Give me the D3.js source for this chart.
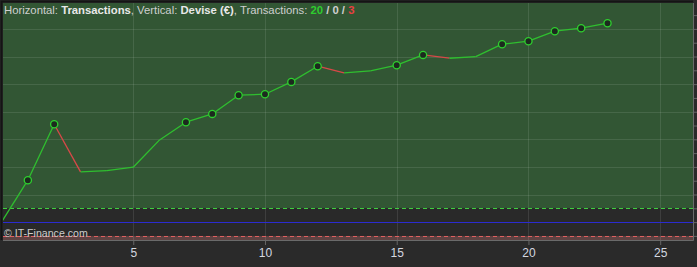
<!DOCTYPE html>
<html>
<head>
<meta charset="utf-8">
<script src="https://cdn.jsdelivr.net/npm/d3@7"></script>
<style>
  body { margin: 0; background: #2a2a2a; }
  svg { display: block; font-family: "Liberation Sans", Arial, sans-serif; }
</style>
</head>
<body>
<div id="chart"></div>
<script>
// equity after each transaction (index 0 = start)
var trades = [0, 1, 2, 3, 4, 5, 6, 7, 8, 9, 10, 11, 12, 13, 14, 15, 16, 17, 18, 19, 20, 21, 22, 23];
var equity = [0, 1518, 3547, 1819, 1862, 1989, 2978, 3620, 3920, 4598, 4634, 5080,
              5649, 5406, 5478, 5685, 6058, 5938, 5996, 6446, 6554, 6917, 7025, 7207];
var xTicks = [5, 10, 15, 20, 25];
var upperLevel = 500;
var lowerLevel = -500;
var counts = [20, 0, 3]; // wins / neutral / losses

let width = 697, height = 267;
let plot = { left: 3, top: 3, right: 693, bottom: 240 };

let svg = d3.select('#chart').append('svg')
    .attr('width', width)
    .attr('height', height);

let x = d3.scaleLinear()
    .domain([0.057, 26.245])
    .range([plot.left, plot.right]);

// 1000 € per grid row of ~27.6px
let y = d3.scaleLinear()
    .domain([-648, 7939])
    .range([plot.bottom, plot.top]);

svg.append('defs').append('clipPath')
    .attr('id', 'plot-clip')
    .append('rect')
    .attr('x', plot.left).attr('y', plot.top)
    .attr('width', plot.right - plot.left)
    .attr('height', plot.bottom - plot.top);

let g = svg.append('g').attr('clip-path', 'url(#plot-clip)');

// background zones
g.append('rect')
    .attr('x', plot.left).attr('width', plot.right - plot.left)
    .attr('y', plot.top).attr('height', y(upperLevel) - plot.top)
    .attr('fill', '#325634');
g.append('rect')
    .attr('x', plot.left).attr('width', plot.right - plot.left)
    .attr('y', y(upperLevel)).attr('height', y(lowerLevel) - y(upperLevel))
    .attr('fill', '#292929');
g.append('rect')
    .attr('x', plot.left).attr('width', plot.right - plot.left)
    .attr('y', y(lowerLevel)).attr('height', plot.bottom - y(lowerLevel))
    .attr('fill', '#5e4242');

// grid
g.selectAll('.hgrid')
    .data(d3.range(1000, 8000, 1000))
    .enter().append('line')
    .attr('x1', plot.left).attr('x2', plot.right)
    .attr('y1', d => Math.round(y(d)) + 0.5).attr('y2', d => Math.round(y(d)) + 0.5)
    .attr('stroke', '#ffffff').attr('stroke-opacity', 0.1);

g.selectAll('.vgrid')
    .data(xTicks)
    .enter().append('line')
    .attr('x1', d => Math.round(x(d)) + 0.5).attr('x2', d => Math.round(x(d)) + 0.5)
    .attr('y1', plot.top).attr('y2', plot.bottom)
    .attr('stroke', '#ffffff').attr('stroke-opacity', 0.1);

// levels
g.append('line')
    .attr('x1', plot.left).attr('x2', plot.right)
    .attr('y1', Math.round(y(upperLevel)) + 0.5).attr('y2', Math.round(y(upperLevel)) + 0.5)
    .attr('stroke', '#3fcf3f').attr('stroke-dasharray', '4,3');
g.append('line')
    .attr('x1', plot.left).attr('x2', plot.right)
    .attr('y1', Math.round(y(0)) + 0.5).attr('y2', Math.round(y(0)) + 0.5)
    .attr('stroke', '#2b2bd0').attr('stroke-width', 1.2);
g.append('line')
    .attr('x1', plot.left).attr('x2', plot.right)
    .attr('y1', Math.round(y(lowerLevel)) + 0.5).attr('y2', Math.round(y(lowerLevel)) + 0.5)
    .attr('stroke', '#e06060').attr('stroke-dasharray', '4,3');

// equity segments, red when the trade lost
let segs = d3.range(1, trades.length).map(i => ({
    x1: trades[i - 1], y1: equity[i - 1], x2: trades[i], y2: equity[i]
}));
g.selectAll('.seg')
    .data(segs)
    .enter().append('line')
    .attr('x1', d => x(d.x1)).attr('y1', d => y(d.y1))
    .attr('x2', d => x(d.x2)).attr('y2', d => y(d.y2))
    .attr('stroke', d => d.y2 < d.y1 ? '#d84848' : '#2fbf2f')
    .attr('stroke-width', 1.3);

// markers on new equity highs
let peak = 0;
let highs = [];
trades.forEach((t, i) => {
    if (i > 0 && equity[i] > peak) highs.push(i);
    peak = Math.max(peak, equity[i]);
});
g.selectAll('.dot')
    .data(highs)
    .enter().append('circle')
    .attr('cx', i => x(trades[i])).attr('cy', i => y(equity[i]))
    .attr('r', 3.6)
    .attr('fill', '#1c2a1e')
    .attr('stroke', '#2fcf2f')
    .attr('stroke-width', 1.3);

// watermark
g.append('text')
    .attr('x', 4).attr('y', 237)
    .attr('fill', '#cccccc')
    .style('font-size', '10.6px')
    .text('\u00a9 IT-Finance.com');

// frame
svg.append('path')
    .attr('d', `M${plot.left - 1.5},${plot.bottom} V${plot.top - 1.5} H${plot.right}`)
    .attr('fill', 'none').attr('stroke', '#141414').attr('stroke-width', 2);
svg.append('path')
    .attr('d', `M${plot.left},${plot.bottom + 0.5} H${plot.right + 0.5} V${plot.top}`)
    .attr('fill', 'none').attr('stroke', '#6a6a6a').attr('stroke-width', 1);

// x axis
let xAxis = d3.axisBottom(x).tickValues(xTicks).tickSize(4).tickPadding(3);
let ax = svg.append('g')
    .attr('transform', `translate(0,${plot.bottom + 1})`)
    .call(xAxis);
ax.select('.domain').remove();
ax.selectAll('line').attr('stroke', '#666');
ax.selectAll('text').attr('fill', '#d4d8e0').style('font-size', '12px')
    .style('font-family', '"Liberation Sans", Arial, sans-serif');

// right-side ticks without labels
let yAxis = d3.axisRight(y).tickValues(d3.range(-500, 8000, 500)).tickSize(3).tickFormat('');
let ay = svg.append('g')
    .attr('transform', `translate(${plot.right + 1},0)`)
    .call(yAxis);
ay.select('.domain').remove();
ay.selectAll('line').attr('stroke', '#666');

// title
let title = svg.append('text')
    .attr('x', 4).attr('y', 14)
    .attr('fill', '#cfcfcf')
    .style('font-size', '11.3px');
title.append('tspan').text('Horizontal: ');
title.append('tspan').attr('font-weight', 'bold').attr('fill', '#e8e8e8').text('Transactions');
title.append('tspan').text(', Vertical: ');
title.append('tspan').attr('font-weight', 'bold').attr('fill', '#e8e8e8').text('Devise (\u20ac)');
title.append('tspan').text(', Transactions: ');
title.append('tspan').attr('font-weight', 'bold').attr('fill', '#2ecc2e').text(counts[0]);
title.append('tspan').attr('font-weight', 'bold').attr('fill', '#cfcfcf').text(' / ' + counts[1] + ' / ');
title.append('tspan').attr('font-weight', 'bold').attr('fill', '#e84040').text(counts[2]);
</script>
</body>
</html>
